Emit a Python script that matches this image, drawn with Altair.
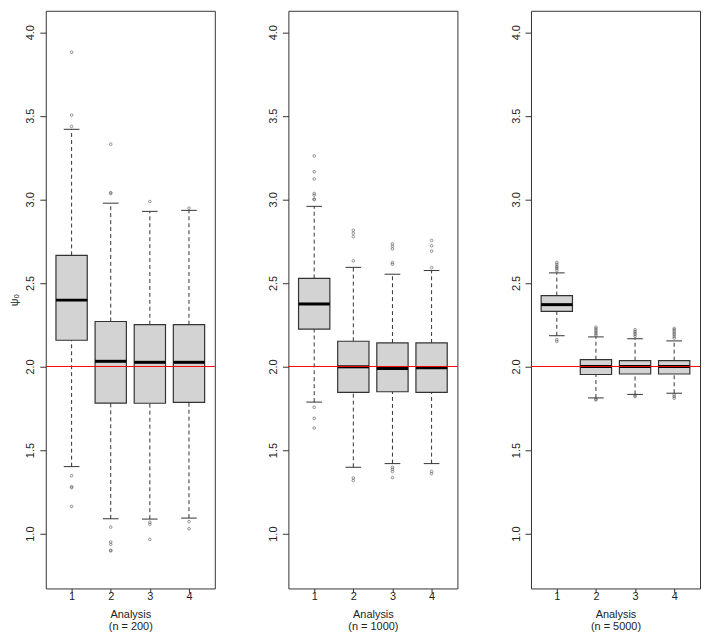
import altair as alt
import pandas as pd

ANALYSIS = [1, 2, 3, 4]
SAMPLE_LABELS = ["(n = 200)", "(n = 1000)", "(n = 5000)"]
Y_TICKS = [1.0, 1.5, 2.0, 2.5, 3.0, 3.5, 4.0]
TRUE_PSI = [2.0]

# n = 200
N200_LO = [1.401, 1.089, 1.087, 1.093]
N200_Q1 = [2.157, 1.781, 1.780, 1.785]
N200_MED = [2.397, 2.031, 2.025, 2.025]
N200_Q3 = [2.665, 2.269, 2.250, 2.250]
N200_HI = [3.419, 2.977, 2.928, 2.934]
N200_OUT = [
    [3.880, 3.504, 3.436, 1.347, 1.281, 1.275, 1.163],
    [3.330, 3.040, 3.035, 1.039, 0.950, 0.936, 0.900, 0.897],
    [2.987, 1.068, 1.056, 0.965],
    [2.947, 1.072, 1.029],
]

# n = 1000
N1000_LO = [1.787, 1.397, 1.419, 1.419]
N1000_Q1 = [2.223, 1.845, 1.849, 1.845]
N1000_MED = [2.374, 1.998, 1.988, 1.992]
N1000_Q3 = [2.527, 2.151, 2.141, 2.141]
N1000_HI = [2.958, 2.593, 2.552, 2.574]
N1000_OUT = [
    [3.260, 3.165, 3.122, 3.035, 3.025, 3.002, 2.998, 1.756, 1.690, 1.632],
    [2.815, 2.797, 2.777, 2.632, 1.333, 1.318],
    [2.734, 2.719, 2.703, 2.622, 2.612, 1.397, 1.385, 1.372, 1.335],
    [2.754, 2.722, 2.690, 2.591, 1.372, 1.359],
]

# n = 5000
N5000_LO = [2.184, 1.812, 1.833, 1.840]
N5000_Q1 = [2.330, 1.952, 1.955, 1.955]
N5000_MED = [2.370, 2.000, 2.000, 2.000]
N5000_Q3 = [2.424, 2.041, 2.035, 2.035]
N5000_HI = [2.560, 2.177, 2.166, 2.153]
N5000_OUT = [
    [2.622, 2.612, 2.600, 2.593, 2.585, 2.574, 2.161, 2.150],
    [2.235, 2.225, 2.216, 2.206, 2.196, 2.188, 1.805, 1.800],
    [2.220, 2.210, 2.200, 2.190, 2.180, 1.826, 1.820],
    [2.228, 2.220, 2.210, 2.200, 2.190, 2.180, 2.170, 1.830, 1.820, 1.810],
]

FONT = "Liberation Sans"
INK = "#222222"


def panel(label, lo, q1, med, q3, hi, outs, first):
    stats = pd.DataFrame({"analysis": ANALYSIS, "lo": lo, "q1": q1,
                          "med": med, "q3": q3, "hi": hi})
    stats["xl"] = stats["analysis"] - 0.4
    stats["xr"] = stats["analysis"] + 0.4
    stats["sl"] = stats["analysis"] - 0.2
    stats["sr"] = stats["analysis"] + 0.2
    out = pd.DataFrame([{"analysis": a, "value": v}
                        for a, vs in zip(ANALYSIS, outs) for v in vs])
    ref = pd.DataFrame({"psi": TRUE_PSI})

    xs = alt.Scale(domain=[0.34, 4.66], nice=False, zero=False)
    ys = alt.Scale(domain=[0.672, 4.128], nice=False, zero=False)
    xaxis = alt.Axis(values=ANALYSIS, format="d", labelAngle=0,
                     title=["Analysis", label], grid=False, domain=False,
                     tickSize=4, labelPadding=-2, titlePadding=7,
                     titleLineHeight=12)
    yaxis = alt.Axis(values=Y_TICKS, format=".1f", labelAngle=270,
                     labelAlign="center", labelBaseline="bottom",
                     title=("ψ₀" if first else None), grid=False,
                     domain=False, tickSize=6, labelPadding=4,
                     titlePadding=5)

    def X(f):
        return alt.X(f, type="quantitative", scale=xs, axis=xaxis)

    def Y(f):
        return alt.Y(f, type="quantitative", scale=ys, axis=yaxis)

    base = alt.Chart(stats)
    whisk_hi = base.mark_rule(color="#333", strokeWidth=1, strokeDash=[4, 3]).encode(
        x=X("analysis"), y=Y("q3"), y2="hi")
    whisk_lo = base.mark_rule(color="#333", strokeWidth=1, strokeDash=[4, 3]).encode(
        x=X("analysis"), y=Y("lo"), y2="q1")
    staple_hi = base.mark_rule(color="#333", strokeWidth=1).encode(
        x=X("sl"), x2="sr", y=Y("hi"))
    staple_lo = base.mark_rule(color="#333", strokeWidth=1).encode(
        x=X("sl"), x2="sr", y=Y("lo"))
    box = base.mark_rect(fill="#D3D3D3", stroke="#333", strokeWidth=1.2).encode(
        x=X("xl"), x2="xr", y=Y("q1"), y2="q3")
    median = base.mark_rule(color="#000", strokeWidth=3).encode(
        x=X("xl"), x2="xr", y=Y("med"))
    points = alt.Chart(out).mark_point(shape="circle", filled=False, size=7,
                                       strokeWidth=0.8, color="#444").encode(
        x=X("analysis"), y=Y("value"))
    red = alt.Chart(ref).mark_rule(color="#FF0000", strokeWidth=1).encode(
        y=Y("psi"))

    return alt.layer(whisk_hi, whisk_lo, staple_hi, staple_lo, box, median,
                     points, red).properties(width=170, height=581)


p1 = panel(SAMPLE_LABELS[0], N200_LO, N200_Q1, N200_MED, N200_Q3, N200_HI, N200_OUT, True)
p2 = panel(SAMPLE_LABELS[1], N1000_LO, N1000_Q1, N1000_MED, N1000_Q3, N1000_HI, N1000_OUT, False)
p3 = panel(SAMPLE_LABELS[2], N5000_LO, N5000_Q1, N5000_MED, N5000_Q3, N5000_HI, N5000_OUT, False)

chart = alt.hconcat(p1, p2, p3, spacing=51, padding=0).configure_view(
    stroke="#333", strokeWidth=1
).configure_axis(
    labelFont=FONT, titleFont=FONT, labelFontSize=11, titleFontSize=11,
    titleFontWeight="normal", labelColor=INK, titleColor=INK,
    tickColor="#333"
)

chart.save("out.html", embed_options={"renderer": "svg", "actions": False})
